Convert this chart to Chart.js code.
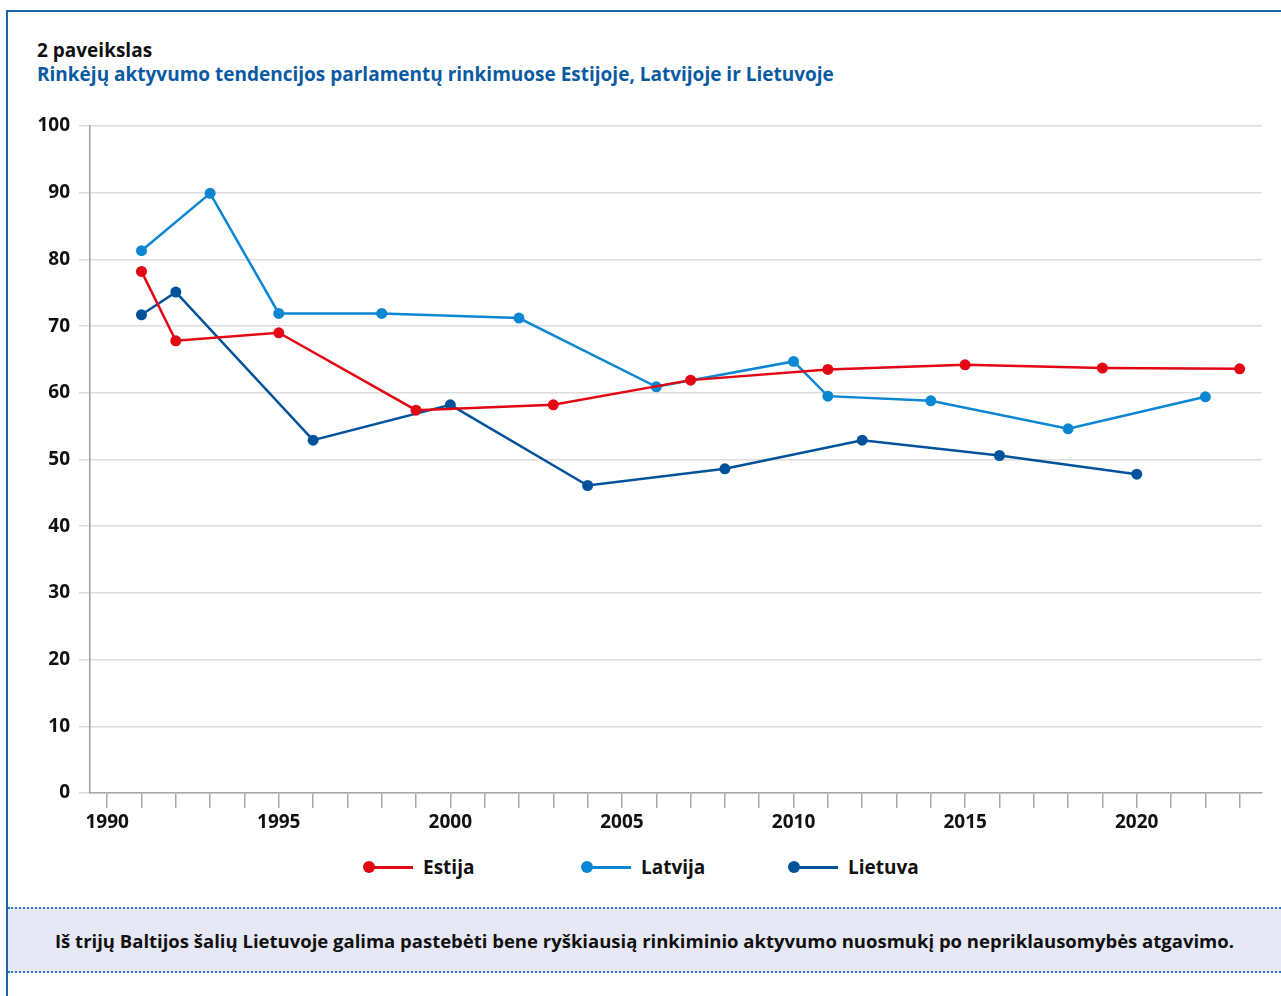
<!DOCTYPE html>
<html lang="lt">
<head>
<meta charset="utf-8">
<title>Rinkėjų aktyvumo tendencijos</title>
<script src="https://cdn.jsdelivr.net/npm/chart.js@4.4.1/dist/chart.umd.min.js"></script>
<style>
  html, body { margin: 0; padding: 0; background: #fff; }
  body { width: 1281px; height: 996px; position: relative; overflow: hidden; font-family: "Open Sans", "Noto Sans", sans-serif; }
  .frame { position: absolute; left: 6px; top: 10px; right: 0; bottom: 0; border-left: 2px solid #1f64a8; border-top: 2px solid #1f64a8; }
  .head { position: absolute; left: 37px; top: 38px; font-weight: 700; font-size: 19px; line-height: 24px; }
  .head .num { color: #111; }
  .head .name { color: #0a5aa3; }
  #wrap { position: absolute; left: 0; top: 100px; width: 1281px; height: 743px; }
  .legend { position: absolute; left: 0; top: 855px; width: 1281px; height: 24px; }
  .legend .item { position: absolute; top: 0; height: 24px; display: flex; align-items: center; font-weight: 700; font-size: 19px; color: #111; }
  .legend .mark { position: relative; width: 50px; height: 12px; margin-right: 10px; }
  .legend .mark i { position: absolute; left: 6px; right: 0; top: 5px; height: 2.5px; }
  .legend .mark b { position: absolute; left: 0; top: 0; width: 12px; height: 12px; border-radius: 50%; }
  .note { position: absolute; left: 8px; right: 0; top: 907px; height: 62px; background: #e6e9f5;
          border-top: 2px dotted #2f78c0; border-bottom: 2px dotted #2f78c0;
          display: flex; align-items: center; justify-content: center; font-weight: 700; font-size: 18.5px; color: #111; }
</style>
</head>
<body>
<div class="frame"></div>
<div class="head">
  <div class="num">2 paveikslas</div>
  <div class="name">Rinkėjų aktyvumo tendencijos parlamentų rinkimuose Estijoje, Latvijoje ir Lietuvoje</div>
</div>
<div id="wrap"><canvas id="turnoutChart"></canvas></div>
<div class="legend" id="legend"></div>
<div class="note">Iš trijų Baltijos šalių Lietuvoje galima pastebėti bene ryškiausią rinkiminio aktyvumo nuosmukį po nepriklausomybės atgavimo.</div>
<script>
// election years and turnout (%)
const estijaYears = [1991, 1992, 1995, 1999, 2003, 2007, 2011, 2015, 2019, 2023];
const estijaTurnout = [78.2, 67.8, 69.0, 57.4, 58.2, 61.9, 63.5, 64.2, 63.7, 63.6];

const latvijaYears = [1991, 1993, 1995, 1998, 2002, 2006, 2010, 2011, 2014, 2018, 2022];
const latvijaTurnout = [81.3, 89.9, 71.9, 71.9, 71.2, 60.9, 64.7, 59.5, 58.8, 54.6, 59.4];

const lietuvaYears = [1991, 1992, 1996, 2000, 2004, 2008, 2012, 2016, 2020];
const lietuvaTurnout = [71.7, 75.1, 52.9, 58.2, 46.1, 48.6, 52.9, 50.6, 47.8];

const seriesNames = ['Estija', 'Latvija', 'Lietuva'];
const seriesColors = ['#e30613', '#0a87d2', '#00539b'];

// axis ticks: one tick per year, labels every 5 years
const tickYears = [];
for (let y = 1990; y <= 2023; y++) tickYears.push(y);
const yTicks = [0, 10, 20, 30, 40, 50, 60, 70, 80, 90, 100];

const toPoints = (xs, ys) => xs.map((x, i) => ({ x: x, y: ys[i] }));
const seriesData = [
    toPoints(estijaYears, estijaTurnout),
    toPoints(latvijaYears, latvijaTurnout),
    toPoints(lietuvaYears, lietuvaTurnout),
];

const datasets = seriesNames.map((name, i) => ({
    label: name,
    data: seriesData[i],
    borderColor: seriesColors[i],
    backgroundColor: seriesColors[i],
    borderWidth: 2.5,
    pointRadius: 5.5,
    pointBorderWidth: 0,
    pointHoverRadius: 5.5,
    tension: 0,
    order: i,
}));

const tickFont = { family: '"Open Sans", "Noto Sans", sans-serif', size: 19, weight: 'bold' };

new Chart(document.getElementById('turnoutChart'), {
    type: 'line',
    data: { datasets: datasets },
    options: {
        responsive: true,
        maintainAspectRatio: false,
        animation: false,
        layout: { padding: { top: 26, right: 19, bottom: 0, left: 0 } },
        plugins: {
            legend: { display: false },
            tooltip: { enabled: false },
        },
        scales: {
            x: {
                type: 'linear',
                min: 1989.5,
                max: 2023.65,
                afterBuildTicks: (scale) => {
                    scale.ticks = tickYears.map(v => ({ value: v }));
                },
                afterFit: (scale) => { scale.height = 50; },
                ticks: {
                    autoSkip: false,
                    maxRotation: 0,
                    padding: 3,
                    color: '#111',
                    font: tickFont,
                    callback: (v) => (v % 5 === 0 ? String(v) : ''),
                },
                grid: {
                    drawOnChartArea: false,
                    drawTicks: true,
                    tickLength: 15,
                    color: '#a8a8a8',
                    lineWidth: 1.5,
                },
                border: { display: true, color: '#a8a8a8', width: 1.5 },
            },
            y: {
                min: 0,
                max: 100,
                afterBuildTicks: (scale) => {
                    scale.ticks = yTicks.map(v => ({ value: v }));
                },
                afterFit: (scale) => { scale.width = 90; },
                ticks: {
                    padding: 9,
                    color: '#111',
                    font: tickFont,
                },
                grid: {
                    color: '#dcdcdc',
                    lineWidth: 1.5,
                    tickLength: 11,
                },
                border: { display: true, color: '#a0a0a0', width: 1.5 },
            },
        },
    },
});

// legend row under the chart
const legendEl = document.getElementById('legend');
const legendLeft = [363, 581, 788];
seriesNames.forEach((name, i) => {
    const item = document.createElement('div');
    item.className = 'item';
    item.style.left = legendLeft[i] + 'px';
    item.innerHTML = '<span class="mark"><i style="background:' + seriesColors[i] + '"></i><b style="background:' +
        seriesColors[i] + '"></b></span>' + name;
    legendEl.appendChild(item);
});
</script>
</body>
</html>
